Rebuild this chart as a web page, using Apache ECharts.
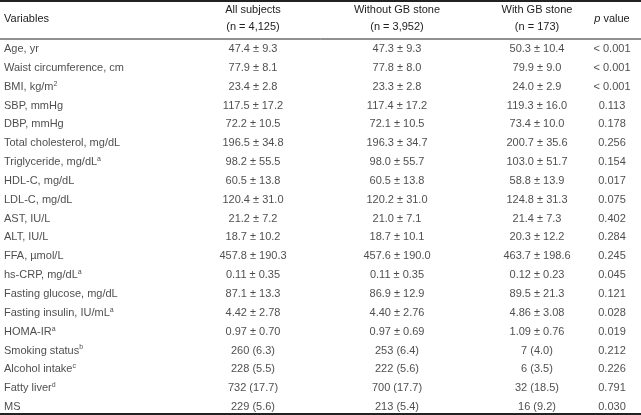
<!DOCTYPE html>
<html><head><meta charset="utf-8">
<script src="https://cdn.jsdelivr.net/npm/echarts@6/dist/echarts.min.js"></script>
<style>html,body{margin:0;padding:0;background:#fff}#c{width:641px;height:415px}</style>
</head><body><div id="c"></div>
<script>
const variables = ["Age, yr","Waist circumference, cm","BMI, kg/m{s|2}","SBP, mmHg","DBP, mmHg","Total cholesterol, mg/dL","Triglyceride, mg/dL{s|a}","HDL-C, mg/dL","LDL-C, mg/dL","AST, IU/L","ALT, IU/L","FFA, µmol/L","hs-CRP, mg/dL{s|a}","Fasting glucose, mg/dL","Fasting insulin, IU/mL{s|a}","HOMA-IR{s|a}","Smoking status{s|b}","Alcohol intake{s|c}","Fatty liver{s|d}","MS"];
const allSubjects = ["47.4 ± 9.3","77.9 ± 8.1","23.4 ± 2.8","117.5 ± 17.2","72.2 ± 10.5","196.5 ± 34.8","98.2 ± 55.5","60.5 ± 13.8","120.4 ± 31.0","21.2 ± 7.2","18.7 ± 10.2","457.8 ± 190.3","0.11 ± 0.35","87.1 ± 13.3","4.42 ± 2.78","0.97 ± 0.70","260 (6.3)","228 (5.5)","732 (17.7)","229 (5.6)"];
const withoutStone = ["47.3 ± 9.3","77.8 ± 8.0","23.3 ± 2.8","117.4 ± 17.2","72.1 ± 10.5","196.3 ± 34.7","98.0 ± 55.7","60.5 ± 13.8","120.2 ± 31.0","21.0 ± 7.1","18.7 ± 10.1","457.6 ± 190.0","0.11 ± 0.35","86.9 ± 12.9","4.40 ± 2.76","0.97 ± 0.69","253 (6.4)","222 (5.6)","700 (17.7)","213 (5.4)"];
const withStone = ["50.3 ± 10.4","79.9 ± 9.0","24.0 ± 2.9","119.3 ± 16.0","73.4 ± 10.0","200.7 ± 35.6","103.0 ± 51.7","58.8 ± 13.9","124.8 ± 31.3","21.4 ± 7.3","20.3 ± 12.2","463.7 ± 198.6","0.12 ± 0.23","89.5 ± 21.3","4.86 ± 3.08","1.09 ± 0.76","7 (4.0)","6 (3.5)","32 (18.5)","16 (9.2)"];
const pValues = ["< 0.001","< 0.001","< 0.001","0.113","0.178","0.256","0.154","0.017","0.075","0.402","0.284","0.245","0.045","0.121","0.028","0.019","0.212","0.226","0.791","0.030"];
const headers = [["Variables",""],["All subjects","(n = 4,125)"],["Without GB stone","(n = 3,952)"],["With GB stone","(n = 173)"],["p value",""]];

const colX = [4, 253, 397, 537, 612];
const font = 'Liberation Sans, Arial, sans-serif';
const rich = {s:{fontSize:7, verticalAlign:'top', padding:[0,0,6,0], fontFamily:font, color:'#222'}};
function col(texts, xi, align){
  return {type:'scatter', symbolSize:0, silent:true,
    data: texts.map((t,i)=>({value:[colX[xi], i], label:{formatter:t}})),
    label:{show:true, position:'inside', align:align, verticalAlign:'middle', fontSize:11, color:'#222', fontFamily:font, rich:rich}};
}
const chart = echarts.init(document.getElementById('c'));
const g = [];
headers.forEach((h,i)=>{
  const align = i===0?'left':'center';
  if(h[1]){
    g.push({type:'text', x:colX[i], y:10, style:{text:h[0], align, verticalAlign:'middle', font:'11px '+font, fill:'#222'}});
    g.push({type:'text', x:colX[i], y:27, style:{text:h[1], align, verticalAlign:'middle', font:'11px '+font, fill:'#222'}});
  } else {
    g.push({type:'text', x:colX[i], y:19, style:{text:h[0], align, verticalAlign:'middle', font:(i===4?'italic ':'')+'11px '+font, fill:'#222'}});
  }
});
g[g.length-1].style.rich = {};
g[g.length-1].style.text = '';
g.push({type:'text', x:612, y:19, style:{text:'{i|p} value', align:'center', verticalAlign:'middle', font:'11px '+font, fill:'#222', rich:{i:{fontStyle:'italic', fontSize:11, fontFamily:font, fill:'#222'}}}});
g.push({type:'line', shape:{x1:0,y1:1,x2:641,y2:1}, style:{stroke:'#222', lineWidth:2}});
g.push({type:'line', shape:{x1:0,y1:39,x2:641,y2:39}, style:{stroke:'#222', lineWidth:1}});
g.push({type:'line', shape:{x1:0,y1:414,x2:641,y2:414}, style:{stroke:'#222', lineWidth:2}});
chart.setOption({
  animation:false,
  grid:{left:0,right:0,top:49,bottom:8},
  xAxis:{type:'value', min:0, max:641, show:false},
  yAxis:{type:'category', data:variables.map((_,i)=>i), inverse:true, boundaryGap:false, show:false},
  series:[col(variables,0,'left'), col(allSubjects,1,'center'), col(withoutStone,2,'center'), col(withStone,3,'center'), col(pValues,4,'center')],
  graphic:g
});
</script></body></html>
